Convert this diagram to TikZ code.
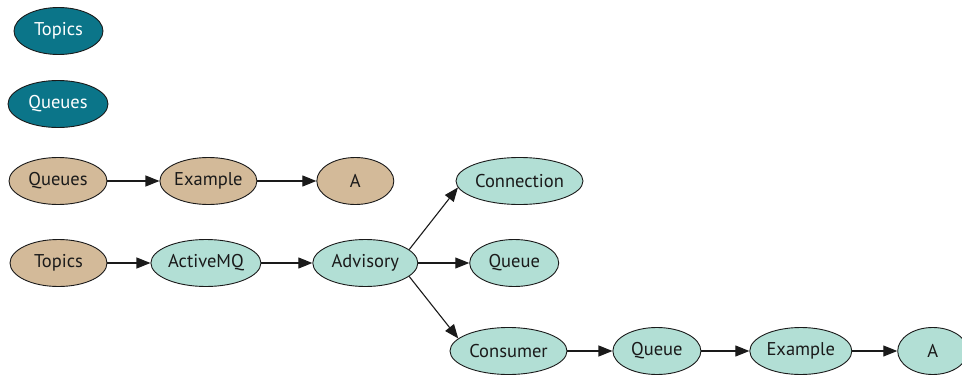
\documentclass[tikz,border=0pt]{standalone}
\usepackage{fontspec}
\setmainfont{PT Sans}
\usetikzlibrary{positioning, arrows.meta, shapes.geometric}
\definecolor{topicTeal}{HTML}{0B7589}
\definecolor{mintFill}{HTML}{B2DFD5}
\definecolor{sandFill}{HTML}{D3BA99}
\definecolor{edgeDark}{HTML}{1A1A1A}

\begin{document}
\begin{tikzpicture}[x=1pt, y=1pt, font=\fontsize{18.5}{22}\selectfont,
    every node/.style={ellipse, draw=edgeDark, line width=0.9pt,
                       inner sep=0pt, minimum height=47pt},
    root/.style={fill=topicTeal, text=white},
    sand/.style={fill=sandFill, text=edgeDark},
    mint/.style={fill=mintFill, text=edgeDark},
    link/.style={-{Triangle[length=14pt, width=11pt]}, line width=1.1pt, draw=edgeDark}]
  \useasboundingbox (0,0) rectangle (962,-375);

  % destinations
  \node[root, minimum width=89pt] (topics) at (58.5,-31) {Topics};
  \node[root, minimum width=100pt] (queues) at (58,-104) {Queues};

  % queue branch
  \node[sand, minimum width=98pt] (qroot) at (58,-181) {Queues};
  \node[sand, minimum width=97pt, right=52pt of qroot] (qexample) {Example};
  \node[sand, minimum width=77pt, right=59pt of qexample] (qa) {A};

  % topic branch
  \node[sand, minimum width=97pt] (troot) at (58.5,-263) {Topics};
  \node[mint, minimum width=110pt, right=43pt of troot] (amq) {ActiveMQ};
  \node[mint, minimum width=105pt, right=51pt of amq] (advisory) {Advisory};
  \node[mint, minimum width=127pt] (connection) at (519.5,-181) {Connection};
  \node[mint, minimum width=89pt, right=51pt of advisory] (queue) {Queue};
  \node[mint, minimum width=117pt] (consumer) at (508.5,-351) {Consumer};
  \node[mint, minimum width=88pt, right=45pt of consumer] (cqueue) {Queue};
  \node[mint, minimum width=102pt, right=48pt of cqueue] (cexample) {Example};
  \node[mint, minimum width=70pt, right=45pt of cexample] (ca) {A};

  \draw[link] (qroot) -- (qexample);
  \draw[link] (qexample) -- (qa);
  \draw[link] (troot) -- (amq);
  \draw[link] (amq) -- (advisory);
  \draw[link] (advisory.17) -- (connection.186);
  \draw[link] (advisory) -- (queue);
  \draw[link] (advisory.343) -- (consumer.166);
  \draw[link] (consumer) -- (cqueue);
  \draw[link] (cqueue) -- (cexample);
  \draw[link] (cexample) -- (ca);
\end{tikzpicture}
\end{document}
